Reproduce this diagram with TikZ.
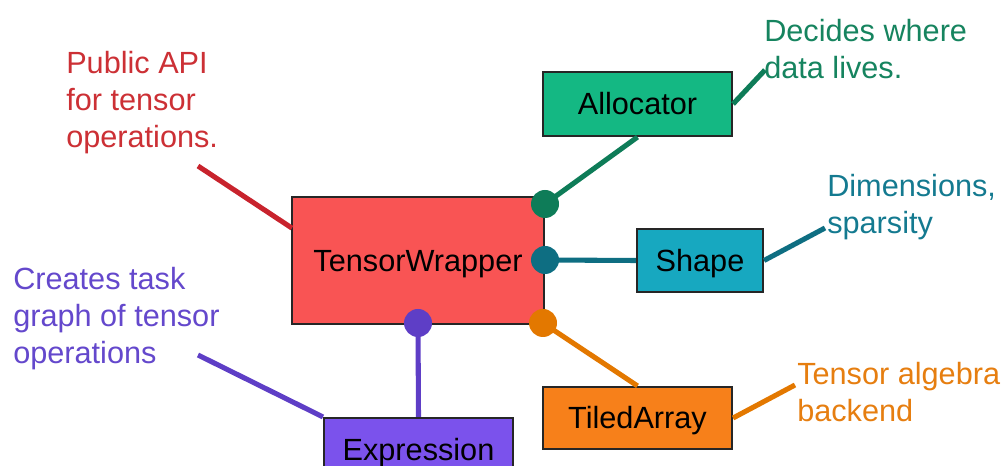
\documentclass[tikz,border=0pt]{standalone}
\usepackage{fontspec}
\setmainfont{Liberation Sans}
\usetikzlibrary{calc}
\definecolor{rFill}{HTML}{F95454}\definecolor{rLine}{HTML}{C8232D}\definecolor{rText}{HTML}{CC3035}
\definecolor{gFill}{HTML}{14B883}\definecolor{gLine}{HTML}{0E7C58}\definecolor{gText}{HTML}{16845F}
\definecolor{tFill}{HTML}{17A8C0}\definecolor{tLine}{HTML}{0E6E82}\definecolor{tText}{HTML}{147A90}
\definecolor{oFill}{HTML}{F7801A}\definecolor{oLine}{HTML}{E37800}\definecolor{oText}{HTML}{E67E10}
\definecolor{pFill}{HTML}{7B52EC}\definecolor{pLine}{HTML}{5E3EC6}\definecolor{pText}{HTML}{6448CC}
\tikzset{
  box/.style={draw=black!85, line width=1.6pt, inner sep=0pt, text=black,
    text height=16pt, text depth=0pt,
    font=\fontsize{23}{27.75}\selectfont},
  conn/.style={line width=3.8pt},
  dot/.style={circle, inner sep=0pt, minimum size=21pt},
  note/.style={anchor=base west, inner sep=0pt, align=left,
    font=\fontsize{23}{27.75}\selectfont},
}
\begin{document}
\begin{tikzpicture}[x=0.75pt,y=-0.75pt]
\useasboundingbox (0,0) rectangle (1004,466);
\clip (0,0) rectangle (1004,466);
% boxes
\node[box, fill=rFill, minimum width=189pt, minimum height=95pt] (TW) at (418,260.5) {TensorWrapper};
\node[box, fill=gFill, minimum width=141.75pt, minimum height=48pt] (AL) at (637.5,104) {Allocator};
\node[box, fill=tFill, minimum width=94.5pt, minimum height=47.25pt] (SH) at (700,260.5) {Shape};
\node[box, fill=oFill, minimum width=141.75pt, minimum height=46.5pt] (TA) at (637.5,418) {TiledArray};
\node[box, fill=pFill, minimum width=141.75pt, minimum height=47.25pt] (EX) at (418.5,449.5) {Expression};
% notes (anchored at the baseline of their last line)
\node[note, text=rText] (nR) at (66,148) {Public API\\for tensor\\operations.};
\node[note, text=gText] (nG) at (764,79) {Decides where\\data lives.};
\node[note, text=tText] (nT) at (827,234) {Dimensions,\\sparsity};
\node[note, text=oText] (nO) at (797,422) {Tensor algebra\\backend};
\node[note, text=pText] (nP) at (13,364) {Creates task\\graph of tensor\\operations};
% free ends of note leaders
\coordinate (lR) at (198,166);
\coordinate (lG) at (765,70);
\coordinate (lT) at (825,228);
\coordinate (lO) at (795,385);
\coordinate (lP) at (198,355);
% dots
\node[dot] (dG) at (545,204) {};
\node[dot] (dT) at (545,260) {};
\node[dot] (dO) at (543,323) {};
\node[dot] (dP) at (418,323) {};
% connectors
\draw[conn, rLine] (lR) -- ($(TW.north west)+(1,32)$);
\draw[conn, gLine] (dG.center) -- (AL.south);
\draw[conn, gLine] (AL.east) -- (lG);
\draw[conn, tLine] (dT.center) -- (SH.west);
\draw[conn, tLine] (SH.east) -- (lT);
\draw[conn, oLine] (dO.center) -- (TA.north);
\draw[conn, oLine] (TA.east) -- (lO);
\draw[conn, pLine] (dP.center) -- (EX.north);
\draw[conn, pLine] (EX.north west) -- (lP);
% dots on top
\fill[gLine] (dG) circle (10.5pt);
\fill[tLine] (dT) circle (10.5pt);
\fill[oLine] (dO) circle (10.5pt);
\fill[pLine] (dP) circle (10.5pt);
\end{tikzpicture}
\end{document}
